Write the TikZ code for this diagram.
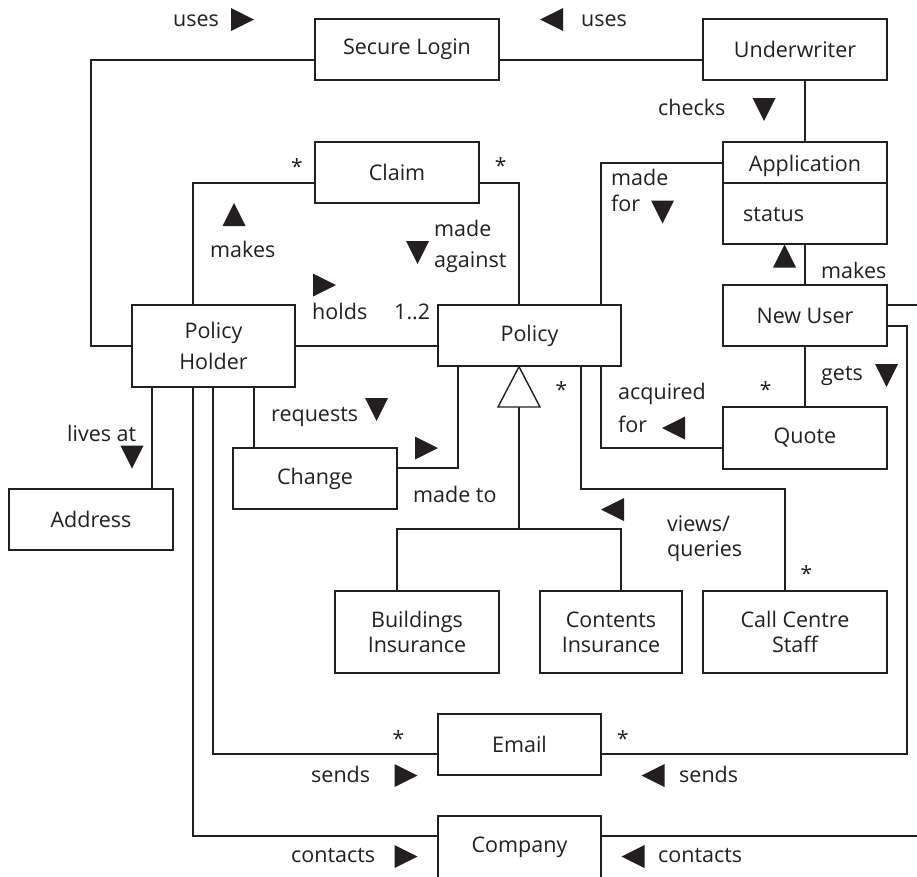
\documentclass[tikz,border=0pt]{standalone}
\usepackage{fontspec}
\newfontfamily\diagfont{Open Sans}
\definecolor{ink}{RGB}{35,31,32}
\begin{document}
\begin{tikzpicture}[x=1pt,y=-1pt,
  ink/.style={color=ink},
  box/.style={draw=ink, text=ink, line width=1.4pt, inner sep=0pt, align=center,
    font=\diagfont\fontsize{21.5}{25}\selectfont},
  lbl/.style={text=ink, inner sep=0pt, anchor=base west,
    font=\diagfont\fontsize{21.5}{25}\selectfont},
  mult/.style={text=ink, inner sep=0pt, anchor=center,
    font=\diagfont\fontsize{21}{25}\selectfont},
  link/.style={draw=ink, line width=1.4pt},
  triR/.pic={\fill[ink] (-11.5,-11.5) -- (11.5,0) -- (-11.5,11.5) -- cycle;},
  triL/.pic={\fill[ink] (11.5,-11.5) -- (-11.5,0) -- (11.5,11.5) -- cycle;},
  triU/.pic={\fill[ink] (-11.5,11.5) -- (0,-11.5) -- (11.5,11.5) -- cycle;},
  triD/.pic={\fill[ink] (-11.5,-11.5) -- (0,11.5) -- (11.5,-11.5) -- cycle;},
]
\useasboundingbox (0,0) rectangle (917,876);
\clip (0,0) rectangle (917,876);

% classes
\node[box, minimum width=184, minimum height=61] (login) at (407,49.5) {Secure Login};
\node[box, minimum width=184, minimum height=61] (under) at (795,49.5) {Underwriter};
\node[box, minimum width=164, minimum height=61] (claim) at (397,172.5) {Claim};
\node[box, minimum width=164, minimum height=102] (app) at (805,193) {};
\node[lbl, anchor=base] (apptitle) at (805,171) {Application};
\node[lbl] (appstatus) at (743,221.7) {status};
\node[box, minimum width=163, minimum height=82, font=\diagfont\fontsize{21.5}{31.7}\selectfont] (ph) at (213.5,346) {Policy\\Holder};
\node[box, minimum width=183, minimum height=61] (policy) at (529.5,335.5) {Policy};
\node[box, minimum width=164, minimum height=61] (newuser) at (805,315.5) {New User};
\node[box, minimum width=164, minimum height=62] (quote) at (805,438) {Quote};
\node[box, minimum width=164, minimum height=61] (address) at (91,519.5) {Address};
\node[box, minimum width=164, minimum height=61] (change) at (315,478.5) {Change};
\node[box, minimum width=164, minimum height=82] (build) at (417,632) {Buildings\\Insurance};
\node[box, minimum width=142, minimum height=82] (contents) at (611,632) {Contents\\Insurance};
\node[box, minimum width=184, minimum height=82] (callc) at (795,632) {Call Centre\\Staff};
\node[box, minimum width=163, minimum height=61] (email) at (519.5,744.5) {Email};
\node[box, minimum width=163, minimum height=62] (company) at (519.5,847) {Company};

% attribute compartment of Application
\draw[link] (app.west |- 0,183) -- (app.east |- 0,183);

% associations
\draw[link] (login.west |- 0,60) -| (91,346) -- (ph.west);
\draw[link] (login.east |- 0,60) -- (under.west |- 0,60);
\draw[link] (app.north) -- (app.north |- under.south);
\draw[link] (claim.west |- 0,183) -| (193,0 |- ph.north);
\draw[link] (claim.east |- 0,183) -| (519,0 |- policy.north);
\draw[link] (app.west |- 0,163) -| (601,0 |- policy.north);
\draw[link] (ph.east) -- (policy.west |- ph.east);
\draw[link] (newuser.north) -- (app.south);
\draw[link] (newuser.south) -- (quote.north);
\draw[link] (quote.west |- 0,448) -| (601,0 |- policy.south);
\draw[link] (581,0 |- policy.south) |- (785,489) -- (785,0 |- callc.north);
\draw[link] (152,0 |- ph.south) -- (152,0 |- address.north);
\draw[link] (254,0 |- ph.south) -- (254,0 |- change.north);
\draw[link] (change.east |- 0,468) -| (458,0 |- policy.south);
\draw[link] (213,0 |- ph.south) |- (email.west |- 0,754);
\draw[link] (193,0 |- ph.south) |- (company.west |- 0,836);
\draw[link] (newuser.east |- 0,326) -| (907,754) -- (email.east |- 0,754);
\draw[link] (newuser.east |- 0,305) -| (940,836) -- (company.east |- 0,836);

% generalisation of Policy
\coordinate (gen) at (519,529);
\draw[link] (397,0 |- build.north) |- (621,0 |- gen) -- (621,0 |- contents.north);
\draw[link] (gen) -- (519,407);
\draw[link, fill=white] (519,0 |- policy.south) -- (540,407) -- (498,407) -- cycle;

% association names and reading directions
\node[lbl] (l1) at (173,26.5) {uses};
\pic at (242.5,19.5) {triR};
\node[lbl] (l2) at (581,26.5) {uses};
\pic at (551.5,19.5) {triL};
\node[lbl] (l3) at (658,115) {checks};
\pic at (764,109.5) {triD};
\node[lbl] (l4) at (210,257.7) {makes};
\pic at (234,214.5) {triU};
\node[lbl] (l5a) at (434,236.7) {made};
\node[lbl] (l5b) at (434,267) {against};
\pic at (417.5,252.5) {triD};
\node[lbl] (l6) at (312,319) {holds};
\pic at (324.5,285) {triR};
\node[lbl] (l6m) at (394,319) {1..2};
\node[lbl] (l7a) at (611,185) {made};
\node[lbl] (l7b) at (611,211.7) {for};
\pic at (662.5,212) {triD};
\node[lbl] (l8) at (821,278) {makes};
\pic at (784.5,256) {triU};
\node[lbl] (l9) at (67,441.7) {lives at};
\pic at (132,457) {triD};
\node[lbl] (l10) at (271,421) {requests};
\pic at (376.5,409.5) {triD};
\node[lbl] (l11) at (413,502) {made to};
\pic at (426.5,448) {triR};
\node[lbl] (l12a) at (618,399) {acquired};
\node[lbl] (l12b) at (618,432.7) {for};
\pic at (673.5,428) {triL};
\node[lbl] (l13) at (821,380) {gets};
\pic at (886.5,375.5) {triD};
\node[lbl] (l14a) at (667,531.7) {views/};
\node[lbl] (l14b) at (667,556.7) {queries};
\pic at (612.5,509.5) {triL};
\node[lbl] (l15) at (311,782.7) {sends};
\pic at (406,775.5) {triR};
\node[lbl] (l16) at (679,782.7) {sends};
\pic at (653,775.5) {triL};
\node[lbl] (l17) at (291,862.7) {contacts};
\pic at (406,856.5) {triR};
\node[lbl] (l18) at (658,862.7) {contacts};
\pic at (633,856.5) {triL};

% multiplicities
\node[mult] (m1) at (297,167) {*};
\node[mult] (m2) at (500.7,165.7) {*};
\node[mult] (m3) at (561.3,390) {*};
\node[mult] (m4) at (765.7,390) {*};
\node[mult] (m5) at (806.3,574) {*};
\node[mult] (m6) at (398.3,738.3) {*};
\node[mult] (m7) at (623,738.3) {*};
\end{tikzpicture}
\end{document}
